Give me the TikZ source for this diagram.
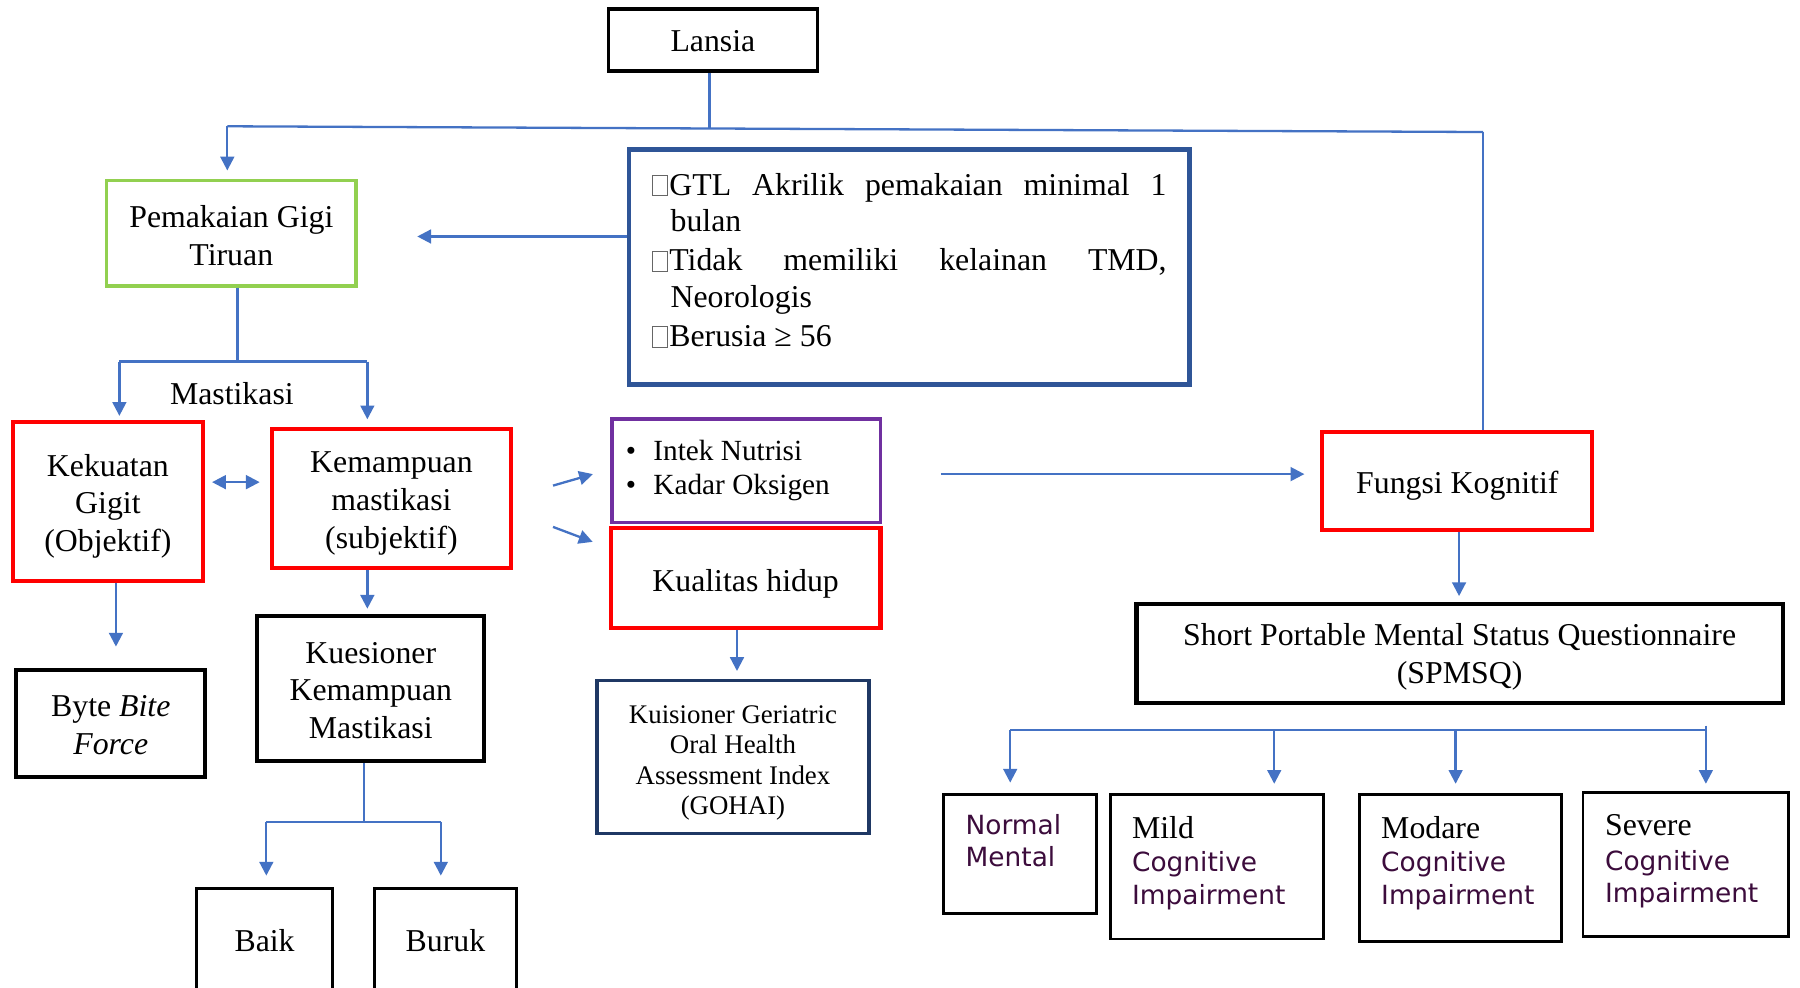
\documentclass[tikz,border=0pt]{standalone}
\usepackage{fontspec}
\setmainfont{Liberation Serif}
\newfontfamily\dv{DejaVu Sans}
\usetikzlibrary{arrows.meta,calc}
\definecolor{lnblue}{RGB}{68,114,196}
\definecolor{critblue}{RGB}{47,85,151}
\definecolor{navy}{RGB}{31,56,100}
\definecolor{grn}{RGB}{146,208,80}
\definecolor{purp}{RGB}{112,48,160}
\definecolor{txtpurp}{RGB}{60,12,60}
\definecolor{redbox}{RGB}{255,0,0}
\newcommand\mainsize{\fontsize{27.7}{33}\selectfont}
\newcommand\nutsize{\fontsize{25.5}{30}\selectfont}
\newcommand\gsize{\fontsize{23.4}{26.5}\selectfont}
\newcommand\cogsize{\dv\fontsize{23}{29}\selectfont\color{txtpurp}}
\newcommand\tofu{{\setlength\fboxsep{0pt}\setlength\fboxrule{0.7pt}\color{black!60}\fbox{\rule{0pt}{17pt}\hspace{12pt}}}\hspace{1.5pt}}
\begin{document}
\begin{tikzpicture}[x=1pt,y=-1pt,
  box/.style={draw, line width=3pt, inner sep=0pt},
  lbl/.style={inner sep=0pt, align=center, font=\mainsize},
  cog/.style={draw, line width=2.5pt, inner sep=0pt},
  ln/.style={draw=lnblue, line width=2pt},
  arr/.style={ln, -{Triangle[length=12pt,width=12pt]}},
  dbl/.style={ln, {Triangle[length=12pt,width=12pt]}-{Triangle[length=12pt,width=12pt]}},
  txt/.style={inner sep=0pt, anchor=base west},
]
\useasboundingbox (0,0) rectangle (1568,860);
\clip (0,0) rectangle (1568,860);
\fill[white] (0,0) rectangle (1568,860);

% boxes
\node[box, minimum width=182pt, minimum height=54pt] (lansia) at (621,35) {};
\node[lbl] (lansiat) at ($(lansia)+(0,1)$) {Lansia};
\node[box, draw=grn, minimum width=217pt, minimum height=92pt] (pem) at (201.5,203) {};
\node[lbl] (pemt) at ($(pem)+(0,2)$) {Pemakaian Gigi\\Tiruan};
\node[box, draw=critblue, line width=4pt, minimum width=488pt, minimum height=205pt] (crit) at (792,232.5) {};
\node[txt, font=\mainsize] (c1) at (568,170) {\makebox[448pt][s]{\tofu GTL Akrilik pemakaian minimal 1}};
\node[txt, font=\mainsize] (c2) at (584,202) {bulan};
\node[txt, font=\mainsize] (c3) at (568,236) {\makebox[448pt][s]{\tofu Tidak memiliki kelainan TMD,}};
\node[txt, font=\mainsize] (c4) at (584,268) {Neorologis};
\node[txt, font=\mainsize] (c5) at (568,302) {\tofu Berusia ≥ 56};

\node[box, draw=redbox, line width=3.5pt, minimum width=166pt, minimum height=138pt] (kek) at (94,437) {};
\node[lbl] (kekt) at ($(kek)+(0,4)$) {Kekuatan\\Gigit\\(Objektif)};
\node[box, draw=redbox, line width=3.5pt, minimum width=208pt, minimum height=121pt] (kem) at (341,434.5) {};
\node[lbl] (kemt) at ($(kem)+(0,4)$) {Kemampuan\\mastikasi\\(subjektif)};
\node[box, line width=3.5pt, minimum width=198pt, minimum height=126pt] (kues) at (323,600) {};
\node[lbl] (kuest) at ($(kues)+(0,1.5)$) {Kuesioner\\Kemampuan\\Mastikasi};
\node[box, line width=3.5pt, minimum width=165pt, minimum height=93pt] (byte) at (96.5,630.5) {};
\node[lbl] (bytet) at ($(byte)+(0,1.5)$) {Byte \textit{Bite}\\\textit{Force}};
\node[box, line width=2.5pt, minimum width=119pt, minimum height=90pt] (baik) at (230.5,819) {};
\node[lbl] (baikt) at (baik) {Baik};
\node[box, line width=2.5pt, minimum width=124pt, minimum height=90pt] (buruk) at (388,819) {};
\node[lbl] (burukt) at (buruk) {Buruk};
\node[lbl] (mast) at (202,343) {Mastikasi};

\node[box, draw=purp, minimum width=234pt, minimum height=90pt] (nut) at (650,410) {};
\node[txt, font=\nutsize] (b1) at (545,401) {•};
\node[txt, font=\nutsize] (n1) at (569,401) {Intek Nutrisi};
\node[txt, font=\nutsize] (b2) at (545,431) {•};
\node[txt, font=\nutsize] (n2) at (569,431) {Kadar Oksigen};
\node[box, draw=redbox, line width=3.5pt, minimum width=235pt, minimum height=87pt] (kual) at (649.5,503.5) {};
\node[lbl] (kualt) at ($(kual)+(0,5)$) {Kualitas hidup};
\node[box, draw=navy, minimum width=237pt, minimum height=133pt] (gohai) at (638.5,659.5) {};
\node[lbl, font=\gsize] (gohait) at ($(gohai)+(0,5)$) {Kuisioner Geriatric\\Oral Health\\Assessment Index\\(GOHAI)};

\node[box, draw=redbox, line width=3.5pt, minimum width=235pt, minimum height=86pt] (fungsi) at (1269.5,419) {};
\node[lbl] (fungsit) at ($(fungsi)+(0,4)$) {Fungsi Kognitif};
\node[box, line width=3.5pt, minimum width=563pt, minimum height=86pt] (spmsq) at (1271.5,569) {};
\node[lbl] (spmsqt) at ($(spmsq)+(0,3.5)$) {Short Portable Mental Status Questionnaire\\(SPMSQ)};

\node[cog, minimum width=133pt, minimum height=104pt] (normal) at (888.5,744) {};
\node[cog, minimum width=186pt, minimum height=126pt] (mild) at (1060,755) {};
\node[cog, minimum width=176pt, minimum height=128pt] (modare) at (1272,756) {};
\node[cog, minimum width=179pt, minimum height=126pt] (severe) at (1468.5,753) {};

\node[txt, font=\cogsize] (t1) at (841,727) {Normal};
\node[txt, font=\cogsize] (t2) at (841,755) {Mental};
\node[txt, font=\mainsize] (t3) at (986,730) {Mild};
\node[txt, font=\cogsize] (t4) at (986,759) {Cognitive};
\node[txt, font=\cogsize] (t5) at (986,788) {Impairment};
\node[txt, font=\mainsize] (t6) at (1203,730) {Modare};
\node[txt, font=\cogsize] (t7) at (1203,759) {Cognitive};
\node[txt, font=\cogsize] (t8) at (1203,788) {Impairment};
\node[txt, font=\mainsize] (t9) at (1398,728) {Severe};
\node[txt, font=\cogsize] (t10) at (1398,758) {Cognitive};
\node[txt, font=\cogsize] (t11) at (1398,786) {Impairment};

% connectors
\coordinate (hl) at (198,110);
\coordinate (hr) at (1292,115);
\draw[ln] ([xshift=-3pt]lansia.south) -- ([xshift=-3pt]lansia.south |- 0,112);
\draw[ln] (hl) -- (hr);
\draw[arr, shorten >=7pt] (hl) -- (hl |- pem.north);
\draw[ln] (hr) -- (hr |- fungsi.north);
\draw[arr, shorten >=52pt] (crit.west |- 0,206) -- (pem.east |- 0,206);

\coordinate (ml) at (104,315);
\coordinate (mr) at (320,315);
\draw[ln] ([xshift=5.5pt]pem.south) -- ([xshift=5.5pt]pem.south |- ml);
\draw[ln] (ml) -- (mr);
\draw[arr, shorten >=4pt] (ml) -- (ml |- kek.north);
\draw[arr, shorten >=7pt] (mr) -- (mr |- kem.north);
\draw[dbl, shorten <=6pt, shorten >=9pt] (kek.east |- 0,420) -- (kem.west |- 0,420);

\draw[arr, shorten >=5pt] (kem.south -| 320,0) -- (kues.north -| 320,0);
\coordinate (kl) at (232,716);
\coordinate (kr) at (384,716);
\draw[ln] (kues.south -| 317,0) -- (317,716);
\draw[ln] (kl) -- (kr);
\draw[arr, shorten >=10pt] (kl) -- (kl |- baik.north);
\draw[arr, shorten >=10pt] (kr) -- (kr |- buruk.north);
\draw[arr, shorten >=19pt] (kek.south -| 101,0) -- (byte.north -| 101,0);

\draw[arr] ($(kem.east)+(35,-11.5)$) -- ($(nut.west)+(-15,3)$);
\draw[arr] ($(kem.east)+(35,24.5)$) -- ($(kual.west)+(-14,-31.5)$);
\draw[arr, shorten >=7pt] (kual.south -| 642,0) -- (gohai.north -| 642,0);
\draw[arr, shorten <=51pt, shorten >=14pt] (nut.east |- 0,413) -- (fungsi.west |- 0,413);
\draw[arr, shorten >=5pt] (fungsi.south -| 1271,0) -- (spmsq.north -| 1271,0);

\coordinate (cl) at (880,636);
\coordinate (cr) at (1487,636);
\draw[ln] (cl) -- (cr);
\draw[arr, shorten >=9pt] (cl) -- (cl |- normal.north);
\draw[arr, shorten >=8pt] (1110,636) -- (mild.north -| 1110,0);
\draw[arr, shorten >=8pt] (1268,636) -- (modare.north -| 1268,0);
\draw[arr, shorten >=6pt] (1486,632) -- (severe.north -| 1486,0);
\end{tikzpicture}
\end{document}
